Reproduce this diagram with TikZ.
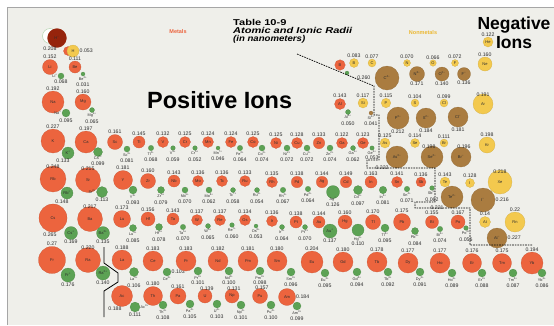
\documentclass[tikz,border=0pt]{standalone}
\usepackage{fontspec}
\setmainfont{Liberation Sans}
\usepackage{graphicx}
\usepackage{xcolor}
\usepackage{tikz}
\usetikzlibrary{positioning}
\definecolor{photobg}{RGB}{239,239,234}
\definecolor{metalred}{RGB}{236,100,62}
\definecolor{iongreen}{RGB}{92,162,84}
\definecolor{nonyellow}{RGB}{243,201,78}
\definecolor{ionbrown}{RGB}{170,124,64}
\definecolor{hydred}{RGB}{150,36,12}
\definecolor{txtgray}{RGB}{45,45,45}
\definecolor{nonlabel}{RGB}{236,184,50}
\newcommand{\chg}[1]{\textsuperscript{#1}}

\begin{document}
\begin{tikzpicture}[
    x=1pt, y=-1pt,
    atom/.style={circle, inner sep=0pt, line width=0.2pt, font=\fontsize{4}{4}\selectfont, text=txtgray},
    metal/.style={atom, fill=metalred, draw=metalred!85!black},
    nonmetal/.style={atom, fill=nonyellow, draw=nonyellow!85!black},
    cation/.style={atom, fill=iongreen, draw=iongreen!85!black},
    anion/.style={atom, fill=ionbrown, draw=ionbrown!85!black},
    val/.style={font=\fontsize{5.2}{5.2}\selectfont, text=txtgray, inner sep=0.4pt},
    ival/.style={val, yshift=-6.5pt},
    ion/.style={font=\fontsize{3.8}{3.8}\selectfont, text=txtgray, inner sep=0.3pt},
    stair/.style={black, line width=0.7pt, dash pattern=on 1.6pt off 1pt}
]
% Page and photo
\useasboundingbox (0,0) rectangle (554,325);
\fill[white] (0,0) rectangle (554,325);
\fill[photobg] (7,7) rectangle (554,325);
\draw[black!35, line width=0.6pt] (7,325) -- (7,7) -- (554,7);

% Titles
\node[anchor=base west, inner sep=0pt, font=\fontsize{8.5}{9}\selectfont\bfseries] (tabno) at (233,25) {\scalebox{1.3}[1]{Table 10-9}};
\node[below=2pt of tabno.south west, anchor=north west, inner sep=0pt, font=\fontsize{8.5}{9}\selectfont\bfseries\itshape] (tabname) {\scalebox{1.3}[1]{Atomic and Ionic Radii}};
\node[below=1.5pt of tabname.south west, anchor=north west, inner sep=0pt, font=\fontsize{8.5}{9}\selectfont\bfseries\itshape] (tabunit) {\scalebox{1.13}[1]{(in nanometers)}};
\node[font=\fontsize{5.5}{6}\selectfont\bfseries, text=metalred] (metlbl) at (178,32) {Metals};
\node[font=\fontsize{5.5}{6}\selectfont\bfseries, text=nonlabel] (nonlbl) at (423,33) {Nonmetals};
\node[anchor=base west, inner sep=0pt, font=\fontsize{23.5}{24}\selectfont\bfseries] (posions) at (147,108) {Positive Ions};
\node[anchor=north, align=center, inner sep=0pt, font=\fontsize{17.5}{19}\selectfont\bfseries] (negions) at (514,16.5) {Negative\\Ions};

% Period 1
\node[circle, minimum size=15pt, fill=white, draw=iongreen!45, line width=0.5pt] (Hring) at (50,36) {};
\node[anion, fill=hydred, draw=hydred, minimum size=19pt, label={[val,xshift=-7pt,yshift=1.5pt]below:0.208}] (Hminus) at (57,38) {H\chg{−}};
\node[metal, minimum size=9pt] (Hback) at (68,51) {};
\node[nonmetal, minimum size=12pt, label={[val]right:0.053}] (H) at (73,51) {H};

% Period 2
\node[metal, minimum size=15pt, label={[val]above:0.152}] (Li) at (50,67) {Li};
\node[metal, minimum size=12pt, label={[val]above:0.111}] (Be) at (75,67) {Be};
\node[cation, minimum size=6pt, label={[ion]left:Li\chg{+}}, label={[val]below:0.068}] (Liion) at (61,76) {};
\node[cation, minimum size=4pt, label={[ion]below:Be\chg{2+}}, label={[ival]below:0.031}] (Beion) at (83,74) {};
\node[metal, minimum size=10.5pt] (Bmet) at (340,65) {B};
\node[cation, minimum size=4pt] (Bion) at (347,73) {};
\node[nonmetal, minimum size=9pt, label={[val]above:0.083}] (B) at (354,63) {B};
\node[nonmetal, minimum size=8pt, label={[val]above:0.077}] (C) at (372,63) {C};
\node[nonmetal, minimum size=7pt, label={[val]above:0.070}] (N) at (407,63) {N};
\node[nonmetal, minimum size=6.5pt, label={[val]above:0.066}] (O) at (433,63) {O};
\node[nonmetal, minimum size=7pt, label={[val]above:0.072}] (F) at (455,63) {F};
\node[nonmetal, minimum size=14pt, label={[val]above:0.160}] (Ne) at (485,64) {Ne};
\node[nonmetal, minimum size=10pt, label={[val]above:0.122}] (He) at (488,42) {He};
\node[anion, minimum size=24pt, label={[val,xshift=-4pt]left:0.260}] (Cion) at (387,78) {C\chg{4−}};
\node[anion, minimum size=15pt, label={[val]below:0.171}] (Nion) at (417,74) {N\chg{3−}};
\node[anion, minimum size=14pt, label={[val]below:0.140}] (Oion) at (442,74) {O\chg{2−}};
\node[anion, minimum size=13pt, label={[val]below:0.136}] (Fion) at (464,74) {F\chg{−}};

% Period 3
\node[metal, minimum size=22pt, label={[val]above:0.192}] (Na) at (53,102) {Na};
\node[metal, minimum size=16pt, label={[val]above:0.160}] (Mg) at (83,102) {Mg};
\node[cation, minimum size=8pt, label={[ion]left:Na\chg{+}}, label={[val,yshift=-1.5pt]below:0.095}] (Naion) at (66,113) {};
\node[cation, minimum size=5pt, label={[ion]below:Mg\chg{2+}}, label={[ival]below:0.065}] (Mgion) at (92,110) {};
\node[metal, minimum size=11pt, label={[val]above:0.143}] (Al) at (340,104) {Al};
\node[cation, minimum size=5pt, label={[ion]below:Al\chg{3+}}, label={[ival]below:0.050}] (Alion) at (348,112) {};
\node[nonmetal, minimum size=10pt, label={[val]above:0.117}] (Si) at (363,103) {Si};
\node[anion, minimum size=4pt, label={[ion]below:Si\chg{4+}}, label={[ival]below:0.041}] (Siion) at (371,113) {};
\node[nonmetal, minimum size=9.5pt, label={[val]above:0.115}] (P) at (386,103) {P};
\node[anion, minimum size=22pt, label={[val]below:0.212}] (Pion) at (398,118) {P\chg{3−}};
\node[nonmetal, minimum size=8pt, label={[val]above:0.104}] (S) at (415,103) {S};
\node[anion, minimum size=20pt, label={[val]below:0.184}] (Sion) at (426,118) {S\chg{2−}};
\node[nonmetal, minimum size=8pt, label={[val]above:0.099}] (Cl) at (444,103) {Cl};
\node[anion, minimum size=20pt, label={[val]below:0.181}] (Clion) at (458,117) {Cl\chg{−}};
\node[nonmetal, minimum size=20pt, label={[val,yshift=-3pt]above:0.191}] (Ar) at (483,104) {Ar};

% Period 4
\node[metal, minimum size=24pt, label={[val]above:0.227}] (K) at (53,141) {K};
\node[metal, minimum size=22pt, label={[val]above:0.197}] (Ca) at (86,142) {Ca};
\node[cation, minimum size=12pt, label={[val,xshift=-5pt,yshift=1pt]below:0.133}] (Kion) at (68,153) {K\chg{+}};
\node[cation, minimum size=9pt, label={[ion,yshift=1pt]below:Ca\chg{2+}}, label={[ival,yshift=2.3pt]below:0.099}] (Caion) at (98,152) {};
\node[metal, minimum size=15pt, label={[val]above:0.161}] (Sc) at (115,142) {Sc};
\node[cation, minimum size=6pt, label={[ion]below:Sc\chg{3+}}, label={[ival]below:0.081}] (Scion) at (127,149) {};
\node[metal, minimum size=12pt, label={[val]above:0.145}] (Ti) at (139,142) {Ti};
\node[cation, minimum size=5.4pt, label={[ion]below:Ti\chg{4+}}, label={[ival]below:0.068}] (Tiion) at (151,148) {};
\node[metal, minimum size=11pt, label={[val]above:0.132}] (V) at (163,142) {V};
\node[cation, minimum size=4.6pt, label={[ion]below:V\chg{5+}}, label={[ival]below:0.059}] (Vion) at (173,148) {};
\node[metal, minimum size=11pt, label={[val]above:0.125}] (Cr) at (185,142) {Cr};
\node[cation, minimum size=4.6pt, label={[ion]below:Cr\chg{6+}}, label={[ival]below:0.052}] (Crion) at (195,148) {};
\node[metal, minimum size=11pt, label={[val]above:0.124}] (Mn) at (208,142) {Mn};
\node[cation, minimum size=4pt, label={[ion]below:Mn\chg{7+}}, label={[ival]below:0.046}] (Mnion) at (218,148) {};
\node[metal, minimum size=11pt, label={[val]above:0.124}] (Fe) at (231,142) {Fe};
\node[cation, minimum size=5.4pt, label={[ion]below:Fe\chg{3+}}, label={[ival]below:0.064}] (Feion) at (240,148) {};
\node[metal, minimum size=11pt, label={[val]above:0.125}] (Co) at (253,142) {Co};
\node[cation, minimum size=6pt, label={[ion]below:Co\chg{2+}}, label={[ival]below:0.074}] (Coion) at (262,148) {};
\node[metal, minimum size=11pt, label={[val]above:0.125}] (Ni) at (276,143) {Ni};
\node[cation, minimum size=6pt, label={[ion]below:Ni\chg{2+}}, label={[ival]below:0.072}] (Niion) at (287,148) {};
\node[metal, minimum size=11pt, label={[val]above:0.128}] (Cu) at (297,143) {Cu};
\node[cation, minimum size=6pt, label={[ion]below:Cu\chg{2+}}, label={[ival]below:0.072}] (Cuion) at (307,148) {};
\node[metal, minimum size=11.5pt, label={[val]above:0.133}] (Zn) at (319,143) {Zn};
\node[cation, minimum size=6pt, label={[ion]below:Zn\chg{2+}}, label={[ival]below:0.074}] (Znion) at (330,148) {};
\node[metal, minimum size=11pt, label={[val]above:0.122}] (Ga) at (342,143) {Ga};
\node[cation, minimum size=5pt, label={[ion]below:Ga\chg{3+}}, label={[ival]below:0.062}] (Gaion) at (353,148) {};
\node[metal, minimum size=11pt, label={[val]above:0.123}] (Ge) at (363,143) {Ge};
\node[cation, minimum size=4.4pt, label={[ion]below:Ge\chg{4+}}, label={[ival,yshift=1.5pt]below:0.053}] (Geion) at (372,148) {};
\node[nonmetal, minimum size=10pt, label={[val]above:0.125}] (As) at (385,143) {As};
\node[anion, minimum size=22pt, label={[val]below left:0.222}] (Asion) at (397,157) {As\chg{3−}};
\node[nonmetal, minimum size=9pt, label={[val]above:0.114}] (Se) at (415,143) {Se};
\node[anion, minimum size=22pt, label={[val,xshift=-3pt,yshift=-3pt]above:0.198}] (Seion) at (432,157) {Se\chg{2−}};
\node[nonmetal, minimum size=8pt, label={[val]above:0.111}] (Br) at (444,143) {Br};
\node[anion, minimum size=20pt, label={[val,xshift=3pt,yshift=-2pt]above:0.196}] (Brion) at (461,157) {Br\chg{−}};
\node[nonmetal, minimum size=16pt, label={[val]above:0.198}] (Kr) at (487,145) {Kr};

% Period 5
\node[metal, minimum size=26pt, label={[val,yshift=-3.5pt]above:0.248}] (Rb) at (53,179) {Rb};
\node[metal, minimum size=25pt, label={[val,yshift=-3.5pt]above:0.215}] (Sr) at (88,180) {Sr};
\node[cation, minimum size=12pt, label={[val,xshift=-5pt]below:0.148}] (Rbion) at (67,193) {Rb\chg{+}};
\node[cation, minimum size=11pt, label={[ion]left:Sr\chg{2+}}, label={[val]below:0.113}] (Srion) at (102,192) {};
\node[metal, minimum size=19pt, label={[val]above:0.181}] (Y) at (123,180) {Y};
\node[cation, minimum size=8pt, label={[ion]below:Y\chg{3+}}, label={[ival]below:0.093}] (Yion) at (133,190) {};
\node[metal, minimum size=15pt, label={[val]above:0.160}] (Zr) at (148,181) {Zr};
\node[cation, minimum size=7pt, label={[ion]below:Zr\chg{4+}}, label={[ival]below:0.079}] (Zrion) at (161,190) {};
\node[metal, minimum size=12pt, label={[val]above:0.143}] (Nb) at (174,181) {Nb};
\node[cation, minimum size=6pt, label={[ion]below:Nb\chg{5+}}, label={[ival]below:0.070}] (Nbion) at (185,190) {};
\node[metal, minimum size=11pt, label={[val]above:0.136}] (Mo) at (198,181) {Mo};
\node[cation, minimum size=6pt, label={[ion]below:Mo\chg{6+}}, label={[ival]below:0.062}] (Moion) at (209,190) {};
\node[metal, minimum size=11pt, label={[val]above:0.136}] (Tc) at (222,181) {Tc};
\node[cation, minimum size=5pt, label={[ion]below:Tc\chg{7+}}, label={[ival]below:0.058}] (Tcion) at (233,190) {};
\node[metal, minimum size=11pt, label={[val]above:0.133}] (Ru) at (245,181) {Ru};
\node[cation, minimum size=5pt, label={[ion]below:Ru\chg{4+}}, label={[ival]below:0.054}] (Ruion) at (257,190) {};
\node[metal, minimum size=11pt, label={[val]above:0.135}] (Rh) at (272,182) {Rh};
\node[cation, minimum size=5.5pt, label={[ion]below:Rh\chg{3+}}, label={[ival]below:0.067}] (Rhion) at (283,190) {};
\node[metal, minimum size=11.5pt, label={[val]above:0.138}] (Pd) at (297,182) {Pd};
\node[cation, minimum size=5.5pt, label={[ion]below:Pd\chg{2+}}, label={[ival]below:0.064}] (Pdion) at (308,189) {};
\node[metal, minimum size=11.5pt, label={[val]above:0.144}] (Ag) at (322,182) {Ag};
\node[cation, minimum size=13pt, label={[ion,yshift=2pt]below:Ag\chg{+}}, label={[ival,yshift=3pt]below:0.126}] (Agion) at (333,192) {};
\node[metal, minimum size=11.5pt, label={[val]above:0.149}] (Cd) at (346,182) {Cd};
\node[cation, minimum size=9pt, label={[ion]below:Cd\chg{2+}}, label={[ival]below:0.097}] (Cdion) at (358,190) {};
\node[metal, minimum size=12pt, label={[val]above:0.163}] (In) at (371,182) {In};
\node[cation, minimum size=7.5pt, label={[ion]below:In\chg{3+}}, label={[ival]below:0.081}] (Inion) at (383,190) {};
\node[metal, minimum size=11pt, label={[val]above:0.141}] (Sn) at (397,182) {Sn};
\node[cation, minimum size=5.5pt, label={[ion]below:Sn\chg{4+}}, label={[ival]below:0.071}] (Snion) at (407,189) {};
\node[metal, minimum size=10pt, label={[val]above:0.136}] (Sb) at (421,182) {Sb};
\node[cation, minimum size=4.6pt, label={[ion]below:Sb\chg{5+}}, label={[ival]below:0.062}] (Sbion) at (432,188) {};
\node[nonmetal, minimum size=10pt, label={[val]above:0.143}] (Te) at (445,182) {Te};
\node[nonmetal, minimum size=24pt, label={[val,yshift=-4pt]above:0.218}] (Xe) at (500,182) {Xe};
\node[anion, minimum size=22pt, label={[val]below left:0.221}] (Teion) at (452,197) {Te\chg{2−}};
\node[nonmetal, minimum size=9pt, label={[val]above:0.128}] (I) at (470,183) {I};
\node[anion, minimum size=24pt, label={[val]right:0.216}] (Iion) at (483,200) {I\chg{−}};

% Period 6
\node[metal, minimum size=28pt, label={[val,xshift=-3pt]below:0.265}] (Cs) at (53,218) {Cs};
\node[metal, minimum size=25pt, label={[val,yshift=-3pt]above:0.217}] (Ba) at (90,219) {Ba};
\node[cation, minimum size=13pt, label={[val]below:0.169}] (Csion) at (71,233) {Cs\chg{+}};
\node[cation, minimum size=13pt, label={[val]below:0.135}] (Baion) at (103,233) {Ba\chg{2+}};
\node[metal, minimum size=17pt, label={[val]above:0.173}] (Lu) at (122,219) {Lu};
\node[cation, minimum size=7pt, label={[ion]below:Lu\chg{3+}}, label={[ival]below:0.085}] (Luion) at (133,228) {};
\node[metal, minimum size=14pt, label={[val]above:0.156}] (Hf) at (148,219) {Hf};
\node[cation, minimum size=7pt, label={[ion]below:Hf\chg{4+}}, label={[ival]below:0.078}] (Hfion) at (159,227) {};
\node[metal, minimum size=12pt, label={[val]above:0.143}] (Ta) at (173,219) {Ta};
\node[cation, minimum size=5.4pt, label={[ion]below:Ta\chg{5+}}, label={[ival]below:0.070}] (Taion) at (183,227) {};
\node[metal, minimum size=11pt, label={[val]above:0.137}] (W) at (197,220) {W};
\node[cation, minimum size=5pt, label={[ion]below:W\chg{6+}}, label={[ival]below:0.065}] (Wion) at (208,226) {};
\node[metal, minimum size=11pt, label={[val]above:0.137}] (Re) at (220,220) {Re};
\node[cation, minimum size=4.6pt, label={[ion]below:Re\chg{7+}}, label={[ival]below:0.060}] (Reion) at (232,225) {};
\node[metal, minimum size=11pt, label={[val]above:0.134}] (Os) at (245,220) {Os};
\node[cation, minimum size=4pt, label={[ion]below:Os\chg{8+}}, label={[ival]below:0.053}] (Osion) at (256,226) {};
\node[metal, minimum size=11pt, label={[val]above:0.136}] (Ir) at (272,221) {Ir};
\node[cation, minimum size=5pt, label={[ion]below:Ir\chg{4+}}, label={[ival]below:0.064}] (Irion) at (282,227) {};
\node[metal, minimum size=12pt, label={[val]above:0.138}] (Pt) at (296,222) {Pt};
\node[cation, minimum size=5pt, label={[ion]below:Pt\chg{2+}}, label={[ival]below:0.070}] (Ption) at (305,227) {};
\node[metal, minimum size=12pt, label={[val]above:0.144}] (Au) at (319,222) {Au};
\node[cation, minimum size=14pt, label={[val]below:0.137}] (Auion) at (330,231) {Au\chg{+}};
\node[metal, minimum size=14pt, label={[val]above:0.160}] (Hg) at (345,222) {Hg};
\node[cation, minimum size=12pt, label={[ion]below:Hg\chg{2+}}, label={[ival,yshift=1.5pt]below:0.110}] (Hgion) at (358,230) {};
\node[metal, minimum size=15pt, label={[val]above:0.170}] (Tl) at (373,222) {Tl};
\node[cation, minimum size=8pt, label={[ion]below:Tl\chg{3+}}, label={[ival]below:0.095}] (Tlion) at (385,228) {};
\node[metal, minimum size=17pt, label={[val]above:0.175}] (Pb) at (402,222) {Pb};
\node[cation, minimum size=7pt, label={[ion]below:Pb\chg{4+}}, label={[ival]below:0.084}] (Pbion) at (415,231) {};
\node[metal, minimum size=13pt, label={[val]above:0.155}] (Bi) at (432,222) {Bi};
\node[cation, minimum size=5.4pt, label={[ion]below:Bi\chg{5+}}, label={[ival]below:0.074}] (Biion) at (440,229) {};
\node[metal, minimum size=14pt, label={[val]above:0.167}] (Po) at (458,222) {Po};
\node[cation, minimum size=4.6pt, label={[ion]below:Po\chg{6+}}, label={[ival]below:0.056}] (Poion) at (466,228) {};
\node[nonmetal, minimum size=11pt, label={[val]above:0.14}] (At) at (485,222) {At};
\node[nonmetal, minimum size=20pt, label={[val]above:0.22}] (Rn) at (515,222) {Rn};
\node[anion, minimum size=20pt, label={[val]right:0.227}] (Ation) at (497,238) {At\chg{−}};

% Period 7
\node[metal, minimum size=27pt, label={[val]above:0.27}] (Fr) at (52,260) {Fr};
\node[metal, minimum size=25pt, label={[val,yshift=-3pt]above:0.220}] (Ra) at (88,260) {Ra};
\node[cation, minimum size=14pt, label={[val]below:0.176}] (Frion) at (68,275) {Fr\chg{+}};
\node[cation, minimum size=14pt, label={[val]below:0.140}] (Raion) at (103,273) {Ra\chg{2+}};

% Lanthanides
\node[metal, minimum size=20pt, label={[val]above:0.188}] (La) at (122,260) {La};
\node[cation, minimum size=9pt, label={[ion]below:La\chg{3+}}, label={[ival]below:0.106}] (Laion) at (134,272) {};
\node[metal, minimum size=20pt, label={[val]above:0.183}] (Ce) at (153,261) {Ce};
\node[cation, minimum size=8pt, label={[ion]below:Ce\chg{3+}}, label={[val]right:0.103}] (Ceion) at (167,272) {};
\node[metal, minimum size=20pt, label={[val]above:0.183}] (Pr) at (186,261) {Pr};
\node[cation, minimum size=8pt, label={[ion]below:Pr\chg{3+}}, label={[ival,yshift=1.5pt]below:0.101}] (Prion) at (198,271) {};
\node[metal, minimum size=20pt, label={[val]above:0.182}] (Nd) at (218,261) {Nd};
\node[cation, minimum size=8pt, label={[ion]below:Nd\chg{3+}}, label={[ival,yshift=1.5pt]below:0.100}] (Ndion) at (229,271) {};
\node[metal, minimum size=20pt, label={[val]above:0.181}] (Pm) at (248,261) {Pm};
\node[cation, minimum size=8pt, label={[ion]below:Pm\chg{3+}}, label={[ival,yshift=1.5pt]below:0.098}] (Pmion) at (260,271) {};
\node[metal, minimum size=20pt, label={[val]above:0.180}] (Sm) at (277,261) {Sm};
\node[cation, minimum size=8pt, label={[ion]below:Sm\chg{3+}}, label={[ival]below:0.096}] (Smion) at (291,272) {};
\node[metal, minimum size=22pt, label={[val]above:0.204}] (Eu) at (312,262) {Eu};
\node[cation, minimum size=8pt, label={[ion]below:Eu\chg{3+}}, label={[ival]below:0.095}] (Euion) at (325,273) {};
\node[metal, minimum size=20pt, label={[val]above:0.180}] (Gd) at (343,262) {Gd};
\node[cation, minimum size=8pt, label={[ion]below:Gd\chg{3+}}, label={[ival]below:0.094}] (Gdion) at (357,272) {};
\node[metal, minimum size=20pt, label={[val]above:0.178}] (Tb) at (377,262) {Tb};
\node[cation, minimum size=8pt, label={[ion]below:Tb\chg{3+}}, label={[ival]below:0.092}] (Tbion) at (388,272) {};
\node[metal, minimum size=20pt, label={[val]above:0.177}] (Dy) at (408,263) {Dy};
\node[cation, minimum size=8pt, label={[ion]below:Dy\chg{3+}}, label={[ival]below:0.091}] (Dyion) at (420,272) {};
\node[metal, minimum size=20pt, label={[val]above:0.177}] (Ho) at (440,263) {Ho};
\node[cation, minimum size=8pt, label={[ion]below:Ho\chg{3+}}, label={[ival]below:0.089}] (Hoion) at (452,273) {};
\node[metal, minimum size=19pt, label={[val]above:0.176}] (Er) at (472,263) {Er};
\node[cation, minimum size=8pt, label={[ion]below:Er\chg{3+}}, label={[ival]below:0.088}] (Erion) at (482,273) {};
\node[metal, minimum size=19pt, label={[val]above:0.175}] (Tm) at (502,263) {Tm};
\node[cation, minimum size=8pt, label={[ion]below:Tm\chg{3+}}, label={[ival]below:0.087}] (Tmion) at (513,273) {};
\node[metal, minimum size=22pt, label={[val]above:0.194}] (Yb) at (532,263) {Yb};
\node[cation, minimum size=8pt, label={[ion]below:Yb\chg{3+}}, label={[ival]below:0.086}] (Ybion) at (542,273) {};

% Actinides
\node[metal, minimum size=21pt, label={[val,xshift=-7pt]below:0.188}] (Ac) at (122,296) {Ac};
\node[cation, minimum size=10pt, label={[ion]right:Ac\chg{3+}}, label={[val]below:0.111}] (Acion) at (135,307) {};
\node[metal, minimum size=19pt, label={[val]above:0.180}] (Th) at (153,296) {Th};
\node[cation, minimum size=8pt, label={[ion]below:Th\chg{4+}}, label={[ival]below:0.108}] (Thion) at (163,305) {};
\node[metal, minimum size=16pt, label={[val,yshift=-1.5pt]above:0.161}] (Pa) at (178,296) {Pa};
\node[cation, minimum size=8pt, label={[ion]below:Pa\chg{4+}}, label={[ival]below:0.105}] (Paion) at (190,304) {};
\node[metal, minimum size=14pt, label={[val,xshift=2pt,yshift=-2pt]above:0.139}] (U) at (205,296) {U};
\node[cation, minimum size=8pt, label={[ion]below:U\chg{4+}}, label={[ival]below:0.103}] (Uion) at (217,304) {};
\node[metal, minimum size=14pt, label={[val,xshift=2pt,yshift=-2pt]above:0.131}] (Np) at (232,296) {Np};
\node[cation, minimum size=8pt, label={[ion]below:Np\chg{4+}}, label={[ival]below:0.101}] (Npion) at (241,305) {};
\node[metal, minimum size=15pt, label={[val,xshift=2pt,yshift=-2pt]above:0.157}] (Pu) at (260,296) {Pu};
\node[cation, minimum size=8pt, label={[ion]below:Pu\chg{4+}}, label={[ival]below:0.100}] (Puion) at (271,305) {};
\node[metal, minimum size=17pt, label={[val]right:0.184}] (Am) at (287,297) {Am};
\node[cation, minimum size=8pt, label={[ion]below:Am\chg{3+}}, label={[ival]below:0.099}] (Amion) at (297,306) {};

% Metal / nonmetal boundary and f-block break
\draw[stair] (297,54) -- (374,86) -- (374,115) -- (379,115) -- (379,160) -- (367,160) -- (367,168) -- (435,168) -- (435,202) -- (415,202) -- (415,208) -- (470,208) -- (470,245) -- (533,245);
\draw[black, line width=0.8pt] (104,247) -- (104,263) -- (118,273) -- (118,282) -- (104,291) -- (104,317);
\end{tikzpicture}
\end{document}
